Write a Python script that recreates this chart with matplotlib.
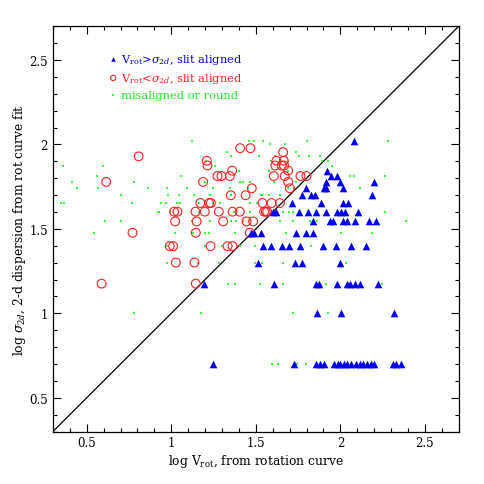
# Velocidad de rotación frente a dispersión 2-d
import numpy as np
import matplotlib
matplotlib.use('Agg')
import matplotlib.pyplot as plt
from matplotlib.ticker import MultipleLocator

# V_rot > sigma_2d, rendija alineada (log V_rot, sigma en km/s)
blue_logv = [2.079,
             1.918,
             1.947, 1.977,
             1.912, 1.996, 2.197,
             1.795, 1.903, 1.912, 2.016,
             1.773, 1.825, 1.848, 2.185,
             1.711, 1.884, 2.016, 2.042,
             1.602, 1.622, 1.756, 1.809, 1.853, 1.913, 1.980, 2.006, 2.026, 2.104,
             1.835, 1.937, 1.957, 2.016, 2.039, 2.089, 2.169, 2.213,
             1.474, 1.488, 1.531, 1.740, 1.799, 1.838,
             1.543, 1.587, 1.655, 1.697, 1.764, 1.898, 1.973, 2.065, 2.154,
             1.515, 1.730, 1.772, 1.998,
             1.192, 1.608, 1.857, 1.873, 1.980, 2.039, 2.055, 2.088, 2.114, 2.223,
             1.862, 2.002, 2.317,
             1.246, 1.726, 1.854, 1.878, 1.904, 1.961, 1.986, 2.000, 2.020, 2.039,
             2.065, 2.095, 2.114, 2.134, 2.160, 2.179, 2.197, 2.308, 2.327, 2.357]
blue_sigma = [105,
              70,
              65, 65,
              60, 60, 60,
              55, 55, 55, 55,
              50, 50, 50, 50,
              45, 45, 45, 45,
              40, 40, 40, 40, 40, 40, 40, 40, 40, 40,
              35, 35, 35, 35, 35, 35, 35, 35,
              30, 30, 30, 30, 30, 30,
              25, 25, 25, 25, 25, 25, 25, 25, 25,
              20, 20, 20, 20,
              15, 15, 15, 15, 15, 15, 15, 15, 15, 15,
              10, 10, 10,
              5, 5, 5, 5, 5, 5, 5, 5, 5, 5,
              5, 5, 5, 5, 5, 5, 5, 5, 5, 5]

# V_rot < sigma_2d, rendija alineada
red_logv = [1.407, 1.468,
            1.661,
            0.807,
            1.210, 1.622, 1.665,
            1.214, 1.615, 1.653, 1.667,
            1.360, 1.691,
            1.273, 1.297, 1.346, 1.606, 1.671, 1.764, 1.799,
            0.615, 1.188, 1.691,
            1.476, 1.701,
            1.352, 1.439,
            1.172, 1.224, 1.234, 1.539, 1.593, 1.642,
            1.017, 1.037, 1.143, 1.198, 1.281, 1.362, 1.405, 1.549, 1.559, 1.567,
            1.023, 1.150, 1.307, 1.445, 1.484,
            0.771, 1.145, 1.464,
            0.991, 1.011, 1.232, 1.333, 1.362,
            1.027, 1.137,
            0.588, 1.145]
red_sigma = [95, 95,
             90,
             85,
             80, 80, 80,
             75, 75, 75, 75,
             70, 70,
             65, 65, 65, 65, 65, 65, 65,
             60, 60, 60,
             55, 55,
             50, 50,
             45, 45, 45, 45, 45, 45,
             40, 40, 40, 40, 40, 40, 40, 40, 40, 40,
             35, 35, 35, 35, 35,
             30, 30, 30,
             25, 25, 25, 25, 25,
             20, 20,
             15, 15]

# Desalineadas o redondas
green_logv = [1.123, 1.458, 1.490, 1.543, 1.804, 2.284,
              1.583, 1.671,
              1.330, 1.736,
              1.352, 1.519, 1.612, 1.756, 1.816, 1.882,
              1.208, 1.587, 1.691, 1.894, 1.927,
              0.361, 0.597, 1.257, 1.953,
              1.401, 1.578, 1.691,
              0.562, 1.056, 2.055, 2.081, 2.264,
              0.412, 0.780, 1.198, 1.405, 1.425, 1.468, 1.608, 1.736,
              0.440, 0.566, 0.863, 0.972, 1.092, 1.247, 1.350, 1.451, 1.689, 1.724, 2.114,
              0.702, 0.981, 1.045, 1.137, 1.228, 1.352, 1.529, 1.539, 1.578, 1.642,
              0.347, 0.365, 0.767, 0.938, 0.968, 1.035, 1.051, 1.165, 1.247, 1.291, 1.464, 1.504,
              0.922, 0.928, 0.991, 1.163, 1.370, 1.464, 1.622, 1.658, 1.697, 1.720, 1.809, 2.262,
              0.607, 0.702, 1.121, 1.228, 1.352, 1.382, 1.425, 1.458, 1.642, 1.720, 1.819, 1.859, 2.390,
              0.544, 1.025, 1.129, 1.200, 1.222, 1.376, 1.681, 2.002, 2.187,
              0.972, 1.198, 1.297, 1.405, 1.494, 1.829,
              0.972, 1.157, 1.283, 1.494, 1.539, 1.658, 2.036,
              1.338, 1.378, 1.523, 1.661, 1.913, 2.244,
              0.777, 1.175, 1.718, 1.924,
              1.596, 1.632, 1.746, 1.799]
green_sigma = [105] * 6 + [100] * 2 + [90] * 2 + [85] * 6 + [80] * 5 + [75] * 4 + \
              [70] * 3 + [65] * 5 + [60] * 8 + [55] * 11 + [50] * 10 + [45] * 12 + \
              [40] * 12 + [35] * 13 + [30] * 9 + [25] * 6 + [20] * 7 + [15] * 6 + \
              [10] * 4 + [5] * 4

# Configuración
plt.rcParams['font.family'] = ['DejaVu Serif']
plt.rcParams['mathtext.fontset'] = 'dejavuserif'

fig = plt.figure(figsize=(4.85, 4.85), dpi=100)
ax = fig.add_axes([0.109, 0.108, 0.837, 0.836])

# Representación
ax.scatter(green_logv, np.log10(green_sigma), s=4, marker='s', color='#33ff33', linewidths=0,
           label='misaligned or round', zorder=2)
ax.scatter(red_logv, np.log10(red_sigma), s=40, marker='o', facecolors='none', edgecolors='#ff2020',
           linewidths=0.8, label=r'$\mathrm{V_{rot}}$<$\sigma_{2d}$, slit aligned', zorder=3)
ax.scatter(blue_logv, np.log10(blue_sigma), s=30, marker='^', color='#0000ee', linewidths=0,
           label=r'$\mathrm{V_{rot}}$>$\sigma_{2d}$, slit aligned', zorder=4)
ax.plot([0.3, 2.7], [0.3, 2.7], color='k', linewidth=0.9, zorder=1)

# Ejes
ax.set_xlim(0.3, 2.7)
ax.set_ylim(0.3, 2.7)
for axis in (ax.xaxis, ax.yaxis):
    axis.set_major_locator(MultipleLocator(0.5))
    axis.set_minor_locator(MultipleLocator(0.1))
ax.xaxis.set_major_formatter(lambda v, p: ('%g' % v))
ax.yaxis.set_major_formatter(lambda v, p: ('%g' % v))
ax.tick_params(which='both', direction='in', top=True, right=True, labelsize=8.5, width=0.8)
ax.tick_params(which='major', length=6)
ax.tick_params(which='minor', length=3)
for sp in ax.spines.values():
    sp.set_linewidth(0.9)

ax.set_xlabel(r'log $\mathrm{V_{rot}}$, from rotation curve', fontsize=8.8, labelpad=2)
ax.set_ylabel(r'log $\sigma_{2d}$, 2-d dispersion from rot curve fit', fontsize=8.8, labelpad=1)

# Leyenda
handles, labels = ax.get_legend_handles_labels()
order = [2, 1, 0]
leg = ax.legend([handles[i] for i in order], [labels[i] for i in order], loc='upper left',
                bbox_to_anchor=(0.115, 0.962), frameon=False, fontsize=8.2, handlelength=0.6,
                handletextpad=0.35, labelspacing=0.45, markerscale=0.6)
for t, c in zip(leg.get_texts(), ['#0000ee', '#ff2020', '#22ee22']):
    t.set_color(c)

fig.savefig('out.png', dpi=100)
plt.close()
